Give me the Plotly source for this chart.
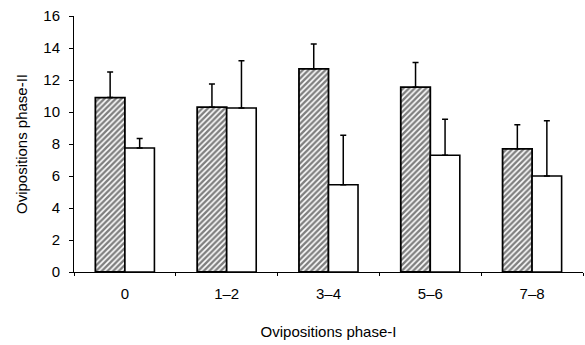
import plotly.graph_objects as go

categories = ["0", "1\u20132", "3\u20134", "5\u20136", "7\u20138"]
hatched_vals = [10.9, 10.3, 12.7, 11.55, 7.7]
hatched_err = [1.6, 1.45, 1.55, 1.55, 1.5]
white_vals = [7.75, 10.25, 5.45, 7.3, 6.0]
white_err = [0.6, 2.95, 3.1, 2.25, 3.45]
y_ticks = [0, 2, 4, 6, 8, 10, 12, 14, 16]

FONT = "Liberation Sans, Arial, sans-serif"

fig = go.Figure()
fig.add_trace(go.Bar(
    x=categories, y=hatched_vals,
    marker=dict(color="white", line=dict(color="black", width=1.8),
                pattern=dict(shape="/", fgcolor="black", bgcolor="white",
                             size=4, solidity=0.6)),
    error_y=dict(type="data", symmetric=False, array=hatched_err,
                 arrayminus=[0] * len(hatched_err), color="black",
                 thickness=1.5, width=3),
    showlegend=False,
))
fig.add_trace(go.Bar(
    x=categories, y=white_vals,
    marker=dict(color="white", line=dict(color="black", width=1.6)),
    error_y=dict(type="data", symmetric=False, array=white_err,
                 arrayminus=[0] * len(white_err), color="black",
                 thickness=1.5, width=3),
    showlegend=False,
))

fig.update_layout(
    width=585, height=345,
    margin=dict(l=74, r=2, t=16, b=73, autoexpand=False),
    paper_bgcolor="white", plot_bgcolor="white",
    barmode="group", bargap=0.42, bargroupgap=0,
    font=dict(family=FONT, size=15, color="black"),
)
fig.update_xaxes(
    type="category", showline=True, linecolor="black", linewidth=1,
    ticks="outside", tickson="boundaries", ticklen=3, tickcolor="black",
    showgrid=False, ticklabelstandoff=8, automargin=False,
    title=dict(text="Ovipositions phase-I", standoff=25, font=dict(size=15)),
    tickfont=dict(size=15),
)
fig.update_yaxes(
    range=[0, 16], tickvals=y_ticks, showline=True, linecolor="black",
    linewidth=1, ticks="outside", ticklen=4, tickcolor="black",
    showgrid=False, zeroline=False, ticklabelstandoff=6, automargin=False,
    title=dict(text="Ovipositions phase-II", standoff=12, font=dict(size=15)),
    tickfont=dict(size=15),
)

fig.write_html(
    "out.html",
    config={"displayModeBar": False},
    post_script="document.body.style.margin='0';document.body.style.overflow='hidden';",
)
